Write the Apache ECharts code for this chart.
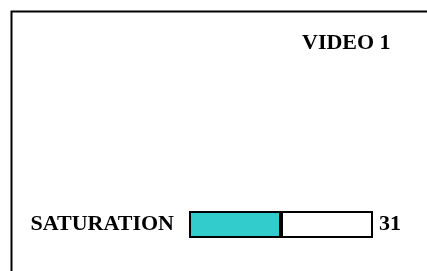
<!DOCTYPE html>
<html>
<head>
<meta charset="utf-8">
<style>
html,body{margin:0;padding:0;background:#fff;}
#chart{width:427px;height:271px;}
</style>
<script src="https://cdn.jsdelivr.net/npm/echarts@6/dist/echarts.min.js"></script>
</head>
<body>
<div id="chart"></div>
<script>
var title = 'VIDEO 1';
var categories = ['SATURATION'];
var values = [31];
var maxValue = 62;

var FONT = "'Liberation Serif', 'Times New Roman', serif";
var chart = echarts.init(document.getElementById('chart'), null, {renderer: 'canvas'});
var remaining = values.map(function (v) { return maxValue - v; });

chart.setOption({
  animation: false,
  backgroundColor: '#ffffff',
  title: {
    text: title,
    left: 297,
    top: 27,
    textStyle: {fontFamily: FONT, fontWeight: 'bold', fontSize: 22, color: '#000'}
  },
  graphic: [{
    type: 'rect',
    left: 9,
    top: 9,
    shape: {x: 0, y: 0, width: 440, height: 280},
    style: {fill: 'none', stroke: '#000', lineWidth: 2},
    silent: true
  }],
  grid: {left: 189, right: 54, top: 211, height: 27, containLabel: false},
  xAxis: {type: 'value', min: 0, max: maxValue, show: false},
  yAxis: {
    type: 'category',
    data: categories,
    axisLine: {show: false},
    axisTick: {show: false},
    splitLine: {show: false},
    axisLabel: {
      margin: 15,
      fontFamily: FONT, fontWeight: 'bold', fontSize: 22, color: '#000'
    }
  },
  series: [{
    type: 'bar',
    stack: 'level',
    data: values,
    barWidth: 27,
    itemStyle: {color: '#33cccc', borderColor: '#000', borderWidth: 2}
  }, {
    type: 'bar',
    stack: 'level',
    data: remaining,
    barWidth: 27,
    itemStyle: {color: '#ffffff', borderColor: '#000', borderWidth: 2},
    label: {
      show: true,
      position: 'right',
      distance: 6,
      formatter: function (p) { return String(values[p.dataIndex]); },
      fontFamily: FONT, fontWeight: 'bold', fontSize: 22, color: '#000'
    }
  }]
});
</script>
</body>
</html>
